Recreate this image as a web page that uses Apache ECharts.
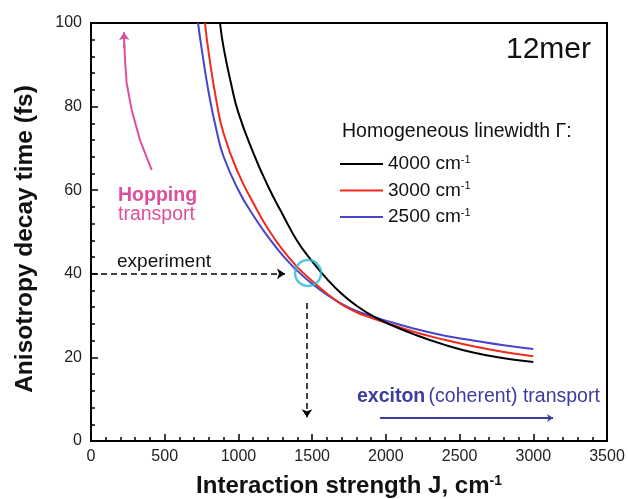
<!DOCTYPE html>
<html>
<head>
<meta charset="utf-8">
<script src="https://cdn.jsdelivr.net/npm/echarts@6/dist/echarts.min.js"></script>
<style>
  html, body { margin: 0; padding: 0; background: #fff; }
  #chart { width: 628px; height: 499px; }
</style>
</head>
<body>
<div id="chart"></div>
<script>
// values: interaction strength J (cm-1) vs anisotropy decay time (fs)
const seriesNames = ['4000', '3000', '2500']
const J4000 = [875, 900, 950, 1000, 1100, 1200, 1300, 1400, 1500, 1600, 1700, 1800, 1900, 2000, 2200, 2400, 2600, 2800, 3000]
const tau4000 = [100, 94, 85.5, 78.5, 69, 61, 54.2, 47.8, 43, 38.8, 35.2, 32.4, 30.1, 28.3, 25.4, 23, 21.1, 19.8, 18.9]
const J3000 = [773, 800, 850, 900, 1000, 1100, 1200, 1300, 1400, 1500, 1600, 1700, 1800, 1900, 2000, 2200, 2400, 2600, 2800, 3000]
const tau3000 = [100, 92.5, 81.5, 73.5, 64, 57, 50.8, 45.7, 41.6, 38.3, 35.3, 32.7, 30.8, 29.5, 28.3, 26, 24.2, 22.6, 21.3, 20.3]
const J2500 = [726, 750, 800, 850, 900, 1000, 1100, 1200, 1300, 1400, 1500, 1600, 1700, 1800, 1900, 2000, 2200, 2400, 2600, 2800, 3000]
const tau2500 = [100, 94, 83, 74.5, 68, 60, 54, 48.9, 44.4, 40.7, 37.6, 35, 32.8, 31.1, 29.9, 28.8, 26.8, 25.2, 24, 22.9, 22]

// annotation positions, in data units
const experimentPoint = [1472, 40.2]
const experimentArrow = [[0, 40], [1316, 40]]
const resultArrow = [[1465, 33], [1465, 5.7]]
const excitonArrow = [[1961, 5.5], [3134, 5.5]]
const hoppingCurve = [[412, 64.8], [332, 72], [276, 79.2], [242, 85.6], [231, 91.1], [226, 95]]
const hoppingHead = [[226, 94], [224, 97.8]]

const xTicks = [0, 3500, 500]
const yTicks = [0, 100, 20]

const font = 'Arial, "Liberation Sans", sans-serif'
const colors = ['#000000', '#f02a1c', '#4646cc']
const pink = '#dc4f9c'
const navy = '#3c3c9c'

function zip(xs, ys) {
  return xs.map((x, i) => [x, ys[i]])
}

const curves = [zip(J4000, tau4000), zip(J3000, tau3000), zip(J2500, tau2500)]

const chart = echarts.init(document.getElementById('chart'))

chart.setOption({
  animation: false,
  textStyle: { fontFamily: font },
  grid: {
    left: 91,
    right: 21,
    top: 23,
    bottom: 58,
    outerBoundsMode: 'none',
    show: true,
    borderColor: '#000',
    borderWidth: 2
  },
  xAxis: {
    type: 'value',
    min: xTicks[0],
    max: xTicks[1],
    interval: xTicks[2],
    name: '{n|Interaction strength J, cm}{s|-1}',
    nameLocation: 'middle',
    nameGap: 33,
    nameMoveOverlap: false,
    nameTextStyle: {
      rich: {
        n: { fontSize: 24, fontWeight: 'bold', color: '#111', fontFamily: font, lineHeight: 24 },
        s: { fontSize: 14, fontWeight: 'bold', color: '#111', fontFamily: font, verticalAlign: 'top', lineHeight: 14 }
      }
    },
    axisLine: { lineStyle: { color: '#000', width: 2 } },
    axisTick: { inside: true, length: 7, lineStyle: { color: '#000', width: 1.5 } },
    minorTick: { show: true, splitNumber: 5, length: 4, lineStyle: { color: '#000', width: 1.5 } },
    axisLabel: { fontSize: 16, color: '#222', margin: 8, formatter: v => String(v) },
    splitLine: { show: false }
  },
  yAxis: {
    type: 'value',
    min: yTicks[0],
    max: yTicks[1],
    interval: yTicks[2],
    name: 'Anisotropy decay time (fs)',
    nameLocation: 'middle',
    nameGap: 53,
    nameMoveOverlap: false,
    nameTextStyle: { fontSize: 24.5, fontWeight: 'bold', color: '#111', padding: [0, 14, 0, 0] },
    axisLine: { lineStyle: { color: '#000', width: 2 } },
    axisTick: { inside: true, length: 7, lineStyle: { color: '#000', width: 1.5 } },
    minorTick: { show: true, splitNumber: 5, length: 4, lineStyle: { color: '#000', width: 1.5 } },
    axisLabel: { fontSize: 16, color: '#222', margin: 9 },
    splitLine: { show: false }
  },
  legend: {
    orient: 'vertical',
    left: 335,
    top: 149,
    icon: 'rect',
    itemWidth: 43,
    itemHeight: 2,
    itemGap: 7,
    data: seriesNames,
    formatter: name => '{n|' + name + ' cm}{s|-1}',
    textStyle: {
      rich: {
        n: { fontSize: 19, color: '#111', fontFamily: font, lineHeight: 20 },
        s: { fontSize: 11, color: '#111', fontFamily: font, verticalAlign: 'top', lineHeight: 11 }
      }
    }
  },
  graphic: [
    { type: 'text', left: 506, top: 35, style: { text: '12mer', font: '30px ' + font, fill: '#111' } },
    { type: 'text', left: 342, top: 122, style: { text: 'Homogeneous linewidth Γ:', font: '19.5px ' + font, fill: '#111' } },
    { type: 'text', left: 118, top: 186, style: { text: 'Hopping', font: 'bold 19.5px ' + font, fill: pink } },
    { type: 'text', left: 118, top: 205, style: { text: 'transport', font: '19.5px ' + font, fill: pink } },
    { type: 'text', left: 117, top: 252, style: { text: 'experiment', font: '19px ' + font, fill: '#111' } },
    {
      type: 'text', left: 357, top: 387,
      style: {
        text: '{b|exciton} {r|(coherent) transport}',
        rich: {
          b: { font: 'bold 19.5px ' + font, fill: navy },
          r: { font: '19.5px ' + font, fill: navy }
        }
      }
    }
  ],
  series: [
    ...curves.map((data, i) => ({
      name: seriesNames[i],
      type: 'line',
      data: data,
      smooth: 0.5,
      showSymbol: false,
      symbol: 'none',
      color: colors[i],
      lineStyle: { color: colors[i], width: 2 },
      z: 3 - i
    })),
    {
      type: 'lines',
      coordinateSystem: 'cartesian2d',
      polyline: true,
      lineStyle: { color: pink, width: 2, opacity: 1 },
      data: [{ coords: hoppingCurve }]
    },
    {
      type: 'lines',
      coordinateSystem: 'cartesian2d',
      symbol: ['none', 'arrow'],
      symbolSize: 8,
      lineStyle: { color: pink, width: 2, opacity: 1 },
      data: [{ coords: hoppingHead }]
    },
    {
      type: 'lines',
      coordinateSystem: 'cartesian2d',
      symbol: ['none', 'arrow'],
      symbolSize: 8,
      lineStyle: { color: '#000', width: 1.5, type: [6, 4], opacity: 1 },
      data: [{ coords: experimentArrow }, { coords: resultArrow }]
    },
    {
      type: 'lines',
      coordinateSystem: 'cartesian2d',
      symbol: ['none', 'arrow'],
      symbolSize: 6,
      lineStyle: { color: navy, width: 2, opacity: 1 },
      data: [{ coords: excitonArrow }]
    },
    {
      type: 'scatter',
      data: [experimentPoint],
      symbolSize: 26,
      itemStyle: { color: 'rgba(0,0,0,0)', borderColor: '#2fb8d3', borderWidth: 2.5 },
      z: 5
    }
  ]
})
</script>
</body>
</html>
